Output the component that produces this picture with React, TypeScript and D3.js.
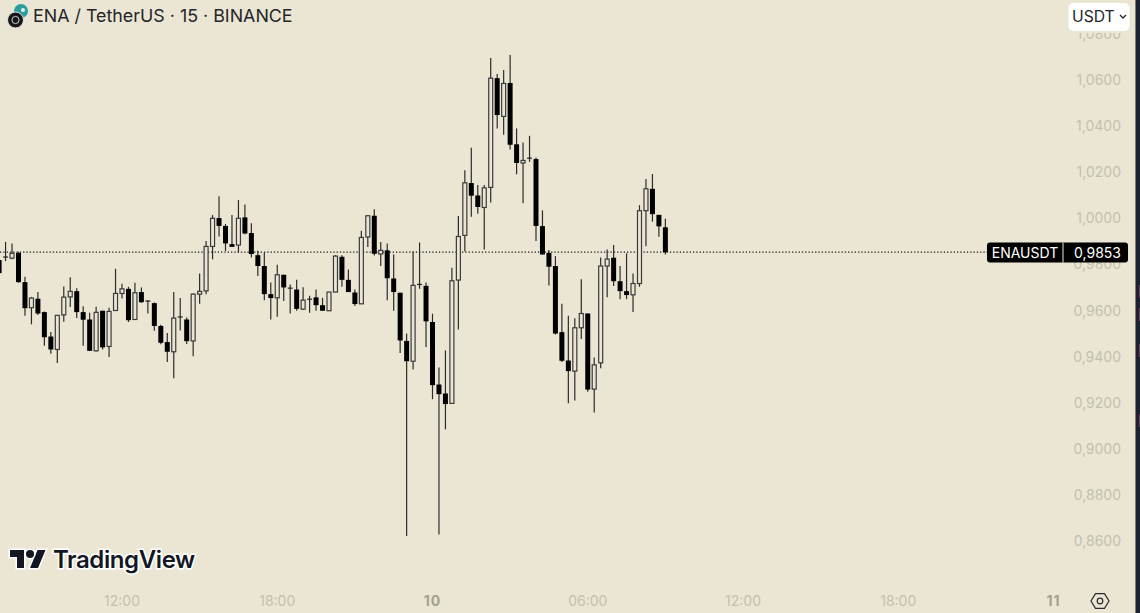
import * as d3 from 'd3';
import React, { useEffect, useRef } from 'react';

// ENAUSDT 15m candles. First bar is 07:15 on the 9th.
const firstBar = Date.UTC(2024, 3, 9, 7, 15);
const barMs = 15 * 60 * 1000;

const opens = [
  0.9819, 0.9832, 0.9827, 0.985, 0.9723, 0.9612, 0.9651, 0.9593, 0.9487, 0.9431, 0.9581, 0.9659, 0.9684, 0.9593,
  0.9561, 0.9425, 0.9599, 0.9444, 0.96, 0.9674, 0.9694, 0.9561, 0.968, 0.9641, 0.9632, 0.9533, 0.9463, 0.9421,
  0.957, 0.9561, 0.9468, 0.9671, 0.9685, 0.9878, 1.0001, 0.9967, 0.9888, 0.9884, 1.0004, 0.9936, 0.984, 0.9793,
  0.9671, 0.9655, 0.9755, 0.9697, 0.9691, 0.9606, 0.9649, 0.9657, 0.9623, 0.9599, 0.968, 0.9833, 0.9733, 0.9678,
  0.9629, 0.9919, 1.0011, 0.9845, 0.9861, 0.9739, 0.9677, 0.9468, 0.938, 0.9711, 0.9707, 0.955, 0.9279, 0.924,
  0.9197, 0.9732, 0.9926, 1.0153, 1.0099, 1.0047, 1.0134, 1.0608, 1.0442, 1.0587, 1.0321, 1.024, 1.0261, 1.0257,
  0.9966, 0.985, 0.9793, 0.9506, 0.9383, 0.9337, 0.9525, 0.9587, 0.9259, 0.9373, 0.9793, 0.9829, 0.9727, 0.9684,
  0.9668, 0.9717, 1.0033, 1.0128, 1.0015, 0.9961,
];
const highs = [
  0.9827, 0.9898, 0.9891, 0.9855, 0.9746, 0.9659, 0.968, 0.9596, 0.9507, 0.958, 0.9704, 0.9744, 0.9697, 0.9618,
  0.959, 0.9616, 0.9599, 0.9612, 0.9781, 0.9716, 0.9703, 0.972, 0.97, 0.9645, 0.9635, 0.9538, 0.9502, 0.968,
  0.9654, 0.957, 0.9674, 0.9761, 0.9902, 1.0014, 1.0096, 0.9975, 1.0014, 1.0079, 1.006, 0.9978, 0.9859, 0.9852,
  0.9722, 0.9798, 0.9755, 0.9713, 0.9733, 0.9701, 0.9664, 0.9691, 0.9655, 0.968, 0.984, 0.984, 0.9778, 0.9691,
  0.9946, 1.0014, 1.0039, 0.9897, 0.9891, 0.9843, 0.9677, 0.95, 0.9856, 0.9895, 0.9722, 0.9586, 0.9353, 0.9427,
  0.9786, 1.001, 1.0209, 1.0306, 1.0145, 1.0144, 1.0695, 1.0626, 1.0643, 1.0708, 1.039, 1.0329, 1.0358, 1.0264,
  1.0034, 0.9862, 0.9836, 0.9629, 0.9577, 0.9566, 0.9736, 0.9587, 0.9396, 0.983, 0.9865, 0.9884, 0.9793, 0.9848,
  0.9761, 1.0057, 1.0171, 1.0192, 1.0015, 0.9998,
];
const lows = [
  0.9762, 0.9814, 0.9822, 0.972, 0.9577, 0.954, 0.958, 0.9447, 0.9412, 0.9372, 0.9551, 0.9615, 0.9567, 0.9447,
  0.9425, 0.9422, 0.9431, 0.9398, 0.96, 0.9652, 0.955, 0.9561, 0.9633, 0.9587, 0.9512, 0.9454, 0.9377, 0.9306,
  0.9513, 0.9455, 0.9401, 0.9629, 0.9671, 0.9822, 0.9921, 0.9858, 0.9876, 0.9852, 0.9931, 0.983, 0.975, 0.9644,
  0.9561, 0.9573, 0.9641, 0.9587, 0.9599, 0.9602, 0.959, 0.9599, 0.9599, 0.9599, 0.968, 0.9703, 0.968, 0.962,
  0.9629, 0.9875, 0.9839, 0.9793, 0.9644, 0.9599, 0.9416, 0.8622, 0.9344, 0.9694, 0.9442, 0.9215, 0.8628, 0.9084,
  0.9197, 0.9518, 0.9856, 1.0007, 1.002, 0.9865, 1.0069, 1.039, 1.0362, 1.0299, 1.0191, 1.0065, 1.0245, 0.9902,
  0.9843, 0.9709, 0.9496, 0.9377, 0.9198, 0.921, 0.9476, 0.9247, 0.9158, 0.9349, 0.9658, 0.9706, 0.9649, 0.9649,
  0.9594, 0.9703, 0.9879, 0.9985, 0.992, 0.9843,
];
const closes = [
  0.9762, 0.983, 0.9848, 0.9723, 0.961, 0.9654, 0.9587, 0.9484, 0.9431, 0.9579, 0.9658, 0.9683, 0.9593, 0.956,
  0.9425, 0.9592, 0.944, 0.9596, 0.9674, 0.9694, 0.9558, 0.9677, 0.9636, 0.9638, 0.9533, 0.946, 0.9421, 0.9567,
  0.9572, 0.9467, 0.9671, 0.9683, 0.9878, 1.0, 0.9967, 0.9891, 0.9876, 1.0, 0.9934, 0.9845, 0.9793, 0.9671,
  0.9654, 0.9755, 0.97, 0.9695, 0.9607, 0.9645, 0.9647, 0.9623, 0.9599, 0.968, 0.9836, 0.9733, 0.968, 0.9628,
  0.9917, 1.0011, 0.9846, 0.9861, 0.974, 0.968, 0.947, 0.938, 0.9709, 0.9713, 0.9553, 0.9276, 0.9237, 0.9194,
  0.9729, 0.9921, 1.0154, 1.0098, 1.0049, 1.0132, 1.0608, 1.0448, 1.0585, 1.0319, 1.024, 1.0251, 1.0259, 0.9967,
  0.9843, 0.979, 0.95, 0.9382, 0.9337, 0.9525, 0.9587, 0.9257, 0.9364, 0.9793, 0.9823, 0.9727, 0.9684, 0.9667,
  0.9717, 1.0033, 1.0128, 1.0018, 0.9965, 0.9853,
];

const priceTicks = [0.86, 0.88, 0.9, 0.92, 0.94, 0.96, 0.98, 1.0, 1.02, 1.04, 1.06, 1.08];
const lastPrice = 0.9853;
const timeTicks = [
  { t: Date.UTC(2024, 3, 9, 12), label: '12:00', day: false },
  { t: Date.UTC(2024, 3, 9, 18), label: '18:00', day: false },
  { t: Date.UTC(2024, 3, 10, 0), label: '10', day: true },
  { t: Date.UTC(2024, 3, 10, 6), label: '06:00', day: false },
  { t: Date.UTC(2024, 3, 10, 12), label: '12:00', day: false },
  { t: Date.UTC(2024, 3, 10, 18), label: '18:00', day: false },
  { t: Date.UTC(2024, 3, 11, 0), label: '11', day: true },
];

const width = 1140;
const height = 613;
const bg = '#ebe6d3';
const font = 'Inter, Roboto, "Noto Sans", sans-serif';

export default function App() {
  const ref = useRef<SVGSVGElement | null>(null);

  useEffect(() => {
    const svg = d3.select(ref.current);
    svg.selectAll('*').remove();

    const y = d3.scaleLinear().domain([0.86, 1.06]).range([541, 80]);
    const x = d3
      .scaleUtc()
      .domain([new Date(timeTicks[0].t), new Date(timeTicks[6].t)])
      .range([122, 1053.5]);
    const comma = d3.formatLocale({ decimal: ',', thousands: '.', grouping: [3], currency: ['', ''] }).format('.4f');

    svg.append('rect').attr('width', width).attr('height', height).attr('fill', bg);

    // last price line goes under the candles
    svg
      .append('line')
      .attr('x1', 0)
      .attr('x2', 987)
      .attr('y1', y(lastPrice))
      .attr('y2', y(lastPrice))
      .attr('stroke', '#1c1c1c')
      .attr('stroke-width', 1.2)
      .attr('stroke-dasharray', '1.3 2');

    const candles = svg.append('g');
    opens.forEach((open, i) => {
      const close = closes[i];
      const cx = x(new Date(firstBar + i * barMs));
      const up = close > open;
      const top = y(Math.max(open, close));
      const bottom = y(Math.min(open, close));

      candles
        .append('line')
        .attr('x1', cx)
        .attr('x2', cx)
        .attr('y1', y(highs[i]))
        .attr('y2', y(lows[i]))
        .attr('stroke', '#2b2b2b')
        .attr('stroke-width', 1.2);

      const h = bottom - top;
      if (h < 2) {
        candles
          .append('line')
          .attr('x1', cx - 2.5)
          .attr('x2', cx + 2.5)
          .attr('y1', top)
          .attr('y2', top)
          .attr('stroke', '#222')
          .attr('stroke-width', 1.2);
      } else if (up) {
        candles
          .append('rect')
          .attr('x', cx - 2)
          .attr('y', top)
          .attr('width', 4)
          .attr('height', h)
          .attr('fill', bg)
          .attr('stroke', '#3a3a3a')
          .attr('stroke-width', 1.2);
      } else {
        candles
          .append('rect')
          .attr('x', cx - 2.5)
          .attr('y', top)
          .attr('width', 5)
          .attr('height', h)
          .attr('fill', '#000');
      }
    });

    // price axis
    svg
      .append('g')
      .selectAll('text')
      .data(priceTicks)
      .join('text')
      .attr('x', 1121)
      .attr('y', d => y(d))
      .attr('dy', '0.36em')
      .attr('text-anchor', 'end')
      .attr('font-family', font)
      .attr('font-size', 14)
      .attr('fill', '#c3bfb1')
      .text(d => comma(d));

    // time axis
    svg
      .append('g')
      .selectAll('text')
      .data(timeTicks)
      .join('text')
      .attr('x', d => x(new Date(d.t)))
      .attr('y', 601)
      .attr('dy', '0.36em')
      .attr('text-anchor', 'middle')
      .attr('font-family', font)
      .attr('font-size', 14)
      .attr('font-weight', d => (d.day ? 700 : 400))
      .attr('letter-spacing', d => (d.day ? 1 : 0))
      .attr('fill', d => (d.day ? '#a3a092' : '#c3bfb1'))
      .text(d => d.label);

    // header
    svg.append('circle').attr('cx', 21).attr('cy', 11).attr('r', 7).attr('fill', '#2a9d9f');
    svg.append('circle').attr('cx', 23).attr('cy', 10).attr('r', 2).attr('fill', '#dff3ee');
    svg.append('circle').attr('cx', 15.5).attr('cy', 20).attr('r', 8).attr('fill', '#17181c').attr('stroke', bg);
    svg
      .append('circle')
      .attr('cx', 15.5)
      .attr('cy', 20)
      .attr('r', 3.6)
      .attr('fill', 'none')
      .attr('stroke', '#c9c9c9')
      .attr('stroke-width', 1);
    svg
      .append('text')
      .attr('x', 33)
      .attr('y', 22)
      .attr('font-family', font)
      .attr('font-size', 17.85)
      .attr('fill', '#24252b')
      .text('ENA / TetherUS · 15 · BINANCE');

    // currency button, with a bit of background round it that hides the top tick
    svg.append('rect').attr('x', 1066).attr('y', 0).attr('width', 66).attr('height', 33).attr('fill', bg);
    svg
      .append('rect')
      .attr('x', 1068.5)
      .attr('y', 3)
      .attr('width', 61)
      .attr('height', 28)
      .attr('rx', 5)
      .attr('fill', '#fff');
    svg
      .append('text')
      .attr('x', 1072)
      .attr('y', 22)
      .attr('font-family', font)
      .attr('font-size', 15.7)
      .attr('fill', '#24252b')
      .text('USDT');
    svg
      .append('path')
      .attr('d', 'M1120 15l3 3 3-3')
      .attr('fill', 'none')
      .attr('stroke', '#24252b')
      .attr('stroke-width', 1.3);

    // last price label
    const ly = y(lastPrice) + 0.4;
    svg
      .append('rect')
      .attr('x', 987)
      .attr('y', ly - 10)
      .attr('width', 141)
      .attr('height', 20)
      .attr('rx', 3)
      .attr('fill', '#000');
    svg
      .append('line')
      .attr('x1', 1063)
      .attr('x2', 1063)
      .attr('y1', ly - 10)
      .attr('y2', ly + 10)
      .attr('stroke', bg);
    svg
      .append('text')
      .attr('x', 1025)
      .attr('y', ly)
      .attr('dy', '0.36em')
      .attr('text-anchor', 'middle')
      .attr('font-family', font)
      .attr('font-size', 14)
      .attr('fill', '#fff')
      .text('ENAUSDT');
    svg
      .append('text')
      .attr('x', 1121)
      .attr('y', ly)
      .attr('dy', '0.36em')
      .attr('text-anchor', 'end')
      .attr('font-family', font)
      .attr('font-size', 14)
      .attr('fill', '#fff')
      .text(comma(lastPrice));

    // TradingView mark
    const logo = svg.append('g').attr('transform', 'translate(10,546)');
    logo
      .append('path')
      .attr('d', 'M14 22H7V11H0V4h14v18zM28 22h-8l7.5-18h8L28 22z')
      .attr('fill', '#131722')
      .attr('stroke', '#fff')
      .attr('stroke-width', 3)
      .attr('paint-order', 'stroke');
    logo
      .append('circle')
      .attr('cx', 20)
      .attr('cy', 8)
      .attr('r', 4)
      .attr('fill', '#131722')
      .attr('stroke', '#fff')
      .attr('stroke-width', 3)
      .attr('paint-order', 'stroke');
    svg
      .append('text')
      .attr('x', 53)
      .attr('y', 568)
      .attr('font-family', font)
      .attr('font-size', 24)
      .attr('font-weight', 600)
      .attr('fill', '#131722')
      .attr('stroke', '#fff')
      .attr('stroke-width', 3)
      .attr('paint-order', 'stroke')
      .attr('letter-spacing', -0.4)
      .text('TradingView');

    // settings hexagon
    const hex = d3.range(6).map(k => {
      const a = (k * Math.PI) / 3;
      return [1100 + 9 * Math.cos(a), 601 + 8.5 * Math.sin(a)] as [number, number];
    });
    svg
      .append('path')
      .attr('d', d3.line().curve(d3.curveLinearClosed)(hex))
      .attr('fill', 'none')
      .attr('stroke', '#2a2a2e')
      .attr('stroke-width', 1.2);
    svg
      .append('circle')
      .attr('cx', 1100)
      .attr('cy', 601)
      .attr('r', 2.8)
      .attr('fill', 'none')
      .attr('stroke', '#2a2a2e')
      .attr('stroke-width', 1.2);

    // sliver of the window behind the screenshot
    svg.append('rect').attr('x', 1135).attr('width', 1).attr('height', height).attr('fill', '#7d7b78');
    svg.append('rect').attr('x', 1136).attr('width', 4).attr('height', height).attr('fill', '#1d2230');
    [285, 308, 344, 414].forEach(top => {
      svg.append('rect').attr('x', 1139).attr('y', top).attr('width', 1).attr('height', 13).attr('fill', '#7a3a55');
    });
  }, []);

  return <svg ref={ref} width={width} height={height} style={{ position: 'absolute', left: 0, top: 0 }} />;
}
